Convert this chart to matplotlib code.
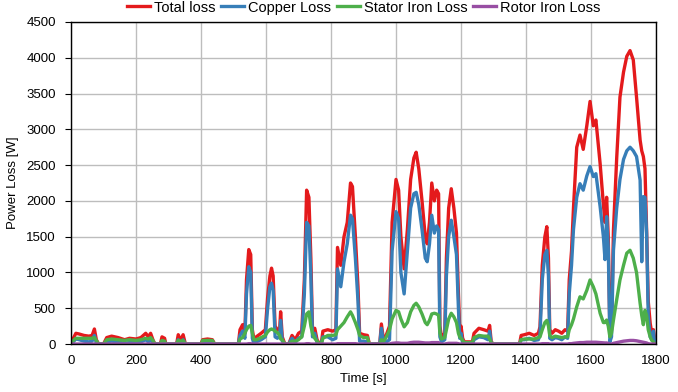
import matplotlib
matplotlib.use("Agg")
import matplotlib.pyplot as plt

# Loss components over the drive cycle
time_s = [0, 5, 15, 25, 40, 55, 65, 72, 78, 85,
          100, 110, 125, 145, 165, 180, 200, 215, 230, 238, 245, 252, 258,
          275, 280, 288, 292, 325, 330, 337, 345, 352, 400, 405, 420, 435, 442,
          515, 520, 528, 535, 540, 547, 553, 558, 563, 570, 585, 598, 605, 612,
          617, 622, 628, 635, 642, 645, 650, 658, 670, 680, 690, 700, 710, 718,
          725, 732, 738, 743, 750, 757, 765, 770, 775, 790, 805, 815, 820, 830,
          840, 850, 860, 866, 875, 883, 888, 900, 912, 918, 950, 955, 962, 968,
          980, 988, 1000, 1008, 1015, 1025, 1035, 1045, 1055, 1062, 1070, 1080,
          1090, 1096, 1103, 1110, 1118, 1125, 1131, 1135, 1140, 1150, 1155, 1162,
          1170, 1178, 1186, 1192, 1196, 1200, 1205, 1210, 1235, 1240, 1255, 1270,
          1283, 1288, 1293, 1300, 1380, 1385, 1395, 1410, 1425, 1438, 1443, 1450,
          1458, 1464, 1469, 1473, 1480, 1490, 1500, 1510, 1520, 1528, 1533, 1540,
          1546, 1556, 1566, 1576, 1587, 1597, 1607, 1615, 1628, 1638, 1643, 1648,
          1653, 1658, 1663, 1669, 1679, 1689, 1700, 1710, 1720, 1730, 1740, 1751,
          1756, 1761, 1766, 1771, 1776, 1782, 1787, 1792, 1795, 1800]

total_loss = [0, 60, 150, 140, 120, 110, 120, 210, 60, 0,
              0, 90, 110, 90, 60, 80, 70, 90, 150, 100, 150, 60, 0,
              0, 100, 80, 0, 0, 130, 50, 130, 0, 0, 60, 70, 60, 0,
              0, 200, 270, 150, 900, 1320, 1250, 200, 60, 100, 150, 200, 650, 950,
              1060, 950, 250, 200, 200, 450, 100, 0, 0, 120, 60, 150, 180, 900,
              2150, 2050, 1200, 200, 220, 60, 0, 0, 180, 200, 180, 200, 1350, 1100,
              1500, 1700, 2250, 2200, 1500, 800, 150, 130, 120, 0, 0, 280, 40, 100,
              250, 1700, 2300, 2150, 1500, 1050, 1600, 2300, 2600, 2680, 2450, 2000,
              1500, 1400, 1700, 2250, 2000, 2150, 2100, 250, 100, 150, 1200, 1900,
              2170, 1900, 1550, 700, 200, 250, 80, 30, 30, 150, 220, 200,
              180, 260, 30, 0, 0, 120, 130, 150, 120, 150, 240, 1100,
              1500, 1640, 1200, 200, 150, 200, 180, 150, 200, 180, 900, 1300,
              1900, 2750, 2920, 2720, 3050, 3390, 3050, 3130, 2520, 1950, 1700, 2050,
              1500, 150, 200, 1590, 2600, 3450, 3800, 4020, 4100, 3970, 3450, 2850,
              2700, 2620, 2450, 1590, 600, 290, 150, 200, 100, 0]

copper_loss = [0, 20, 70, 60, 40, 30, 40, 120, 10, 0,
               0, 30, 40, 30, 10, 20, 20, 30, 60, 30, 60, 10, 0,
               0, 40, 30, 0, 0, 60, 10, 60, 0, 0, 10, 20, 10, 0,
               0, 120, 180, 80, 700, 1080, 1000, 80, 0, 30, 60, 100, 500, 800,
               850, 750, 100, 80, 120, 330, 40, 0, 0, 80, 20, 80, 100, 700,
               1700, 1650, 950, 100, 150, 20, 0, 0, 100, 100, 60, 80, 1050, 800,
               1150, 1400, 1800, 1750, 1200, 600, 40, 40, 30, 0, 0, 220, 0, 20,
               60, 1300, 1850, 1750, 1000, 700, 1300, 1900, 2100, 2120, 1950, 1600,
               1200, 1150, 1400, 1800, 1550, 1650, 1600, 100, 30, 60, 950, 1500,
               1730, 1500, 1250, 500, 80, 150, 20, 0, 0, 60, 100, 90,
               60, 180, 0, 0, 0, 60, 60, 80, 50, 60, 130, 900,
               1250, 1310, 950, 80, 60, 90, 80, 60, 100, 80, 700, 1100,
               1600, 2050, 2240, 2150, 2350, 2480, 2340, 2380, 1920, 1500, 1180, 1780,
               1350, 30, 100, 1310, 1900, 2300, 2580, 2700, 2750, 2700, 2620, 2290,
               1150, 2060, 2050, 1550, 400, 100, 60, 180, 50, 0]

stator_iron_loss = [0, 40, 80, 80, 80, 80, 80, 90, 50, 0,
                    0, 60, 70, 60, 50, 60, 50, 60, 80, 70, 90, 50, 0,
                    0, 50, 40, 0, 0, 50, 40, 50, 0, 0, 50, 50, 50, 0,
                    0, 70, 90, 150, 200, 250, 260, 150, 60, 60, 90, 120, 170, 200,
                    210, 200, 180, 160, 120, 70, 60, 0, 0, 40, 40, 60, 100, 250,
                    420, 450, 250, 150, 80, 40, 0, 0, 80, 120, 120, 130, 200, 250,
                    300, 380, 450, 400, 300, 200, 120, 90, 90, 0, 0, 60, 40, 80,
                    200, 350, 470, 450, 350, 240, 300, 450, 540, 570, 520, 420,
                    300, 270, 330, 420, 430, 420, 400, 150, 70, 90, 200, 350,
                    430, 380, 300, 150, 100, 80, 50, 20, 20, 90, 120, 110,
                    110, 70, 20, 0, 0, 60, 70, 70, 70, 90, 100, 200,
                    300, 330, 250, 120, 90, 110, 100, 90, 100, 100, 200, 270,
                    350, 520, 660, 630, 750, 895, 800, 700, 430, 300, 300, 335,
                    250, 100, 150, 335, 620, 895, 1100, 1270, 1310, 1200, 1000, 570,
                    400, 270, 470, 400, 200, 100, 50, 30, 10, 0]

rotor_iron_loss = [0, 0, 0, 0, 0, 0, 0, 0, 0, 0,
                   0, 0, 0, 0, 0, 0, 0, 0, 0, 0, 0, 0, 0,
                   0, 0, 0, 0, 0, 0, 0, 0, 0, 0, 0, 0, 0, 0,
                   0, 0, 0, 0, 0, 5, 5, 0, 0, 0, 0, 0, 0, 0,
                   0, 0, 0, 0, 0, 0, 0, 0, 0, 0, 0, 0, 0, 0,
                   5, 5, 0, 0, 0, 0, 0, 0, 0, 0, 0, 0, 5, 5,
                   5, 5, 5, 5, 5, 0, 0, 0, 0, 0, 0, 0, 0, 0,
                   0, 10, 15, 15, 10, 10, 10, 20, 25, 25, 25, 20,
                   15, 15, 15, 20, 20, 20, 20, 5, 0, 0, 5, 10,
                   10, 10, 10, 5, 0, 0, 0, 0, 0, 0, 0, 0,
                   0, 0, 0, 0, 0, 0, 0, 0, 0, 0, 0, 5,
                   5, 5, 5, 0, 0, 0, 0, 0, 0, 0, 5, 5,
                   10, 15, 20, 20, 25, 25, 25, 25, 20, 15, 15, 15,
                   10, 0, 0, 10, 20, 30, 40, 45, 50, 50, 45, 35,
                   30, 25, 20, 15, 5, 0, 0, 0, 0, 0]

series = [
    ("Total loss", total_loss, "#e41a1c"),
    ("Copper Loss", copper_loss, "#377eb8"),
    ("Stator Iron Loss", stator_iron_loss, "#4daf4a"),
    ("Rotor Iron Loss", rotor_iron_loss, "#984ea3"),
]

plt.rcParams["font.family"] = ["Liberation Sans", "DejaVu Sans"]
plt.rcParams["font.size"] = 9.5

fig = plt.figure(figsize=(6.78, 3.92), dpi=100)
ax = fig.add_axes([0.1047, 0.1224, 0.8629, 0.8215])

for label, values, color in series:
    ax.plot(time_s, values, color=color, lw=2.4, label=label, solid_joinstyle="round")

ax.set_xlim(0, 1800)
ax.set_ylim(0, 4500)
ax.set_xticks(range(0, 1801, 200))
ax.set_yticks(range(0, 4501, 500))
ax.grid(True, color="#bdbdbd", lw=1)
ax.set_axisbelow(True)
ax.tick_params(axis="x", length=0, pad=8)
ax.tick_params(axis="y", length=4, direction="out", pad=7)
for sp in ax.spines.values():
    sp.set_color("black")
    sp.set_linewidth(1)

ax.set_xlabel("Time [s]", labelpad=4)
ax.set_ylabel("Power Loss [W]", labelpad=5)

ax.legend(loc="lower center", bbox_to_anchor=(0.5, 1.005), ncol=4, frameon=False,
          handlelength=1.6, handletextpad=0.25, columnspacing=0.4, borderaxespad=0,
          fontsize=10.5)

fig.savefig("out.png", dpi=100)
